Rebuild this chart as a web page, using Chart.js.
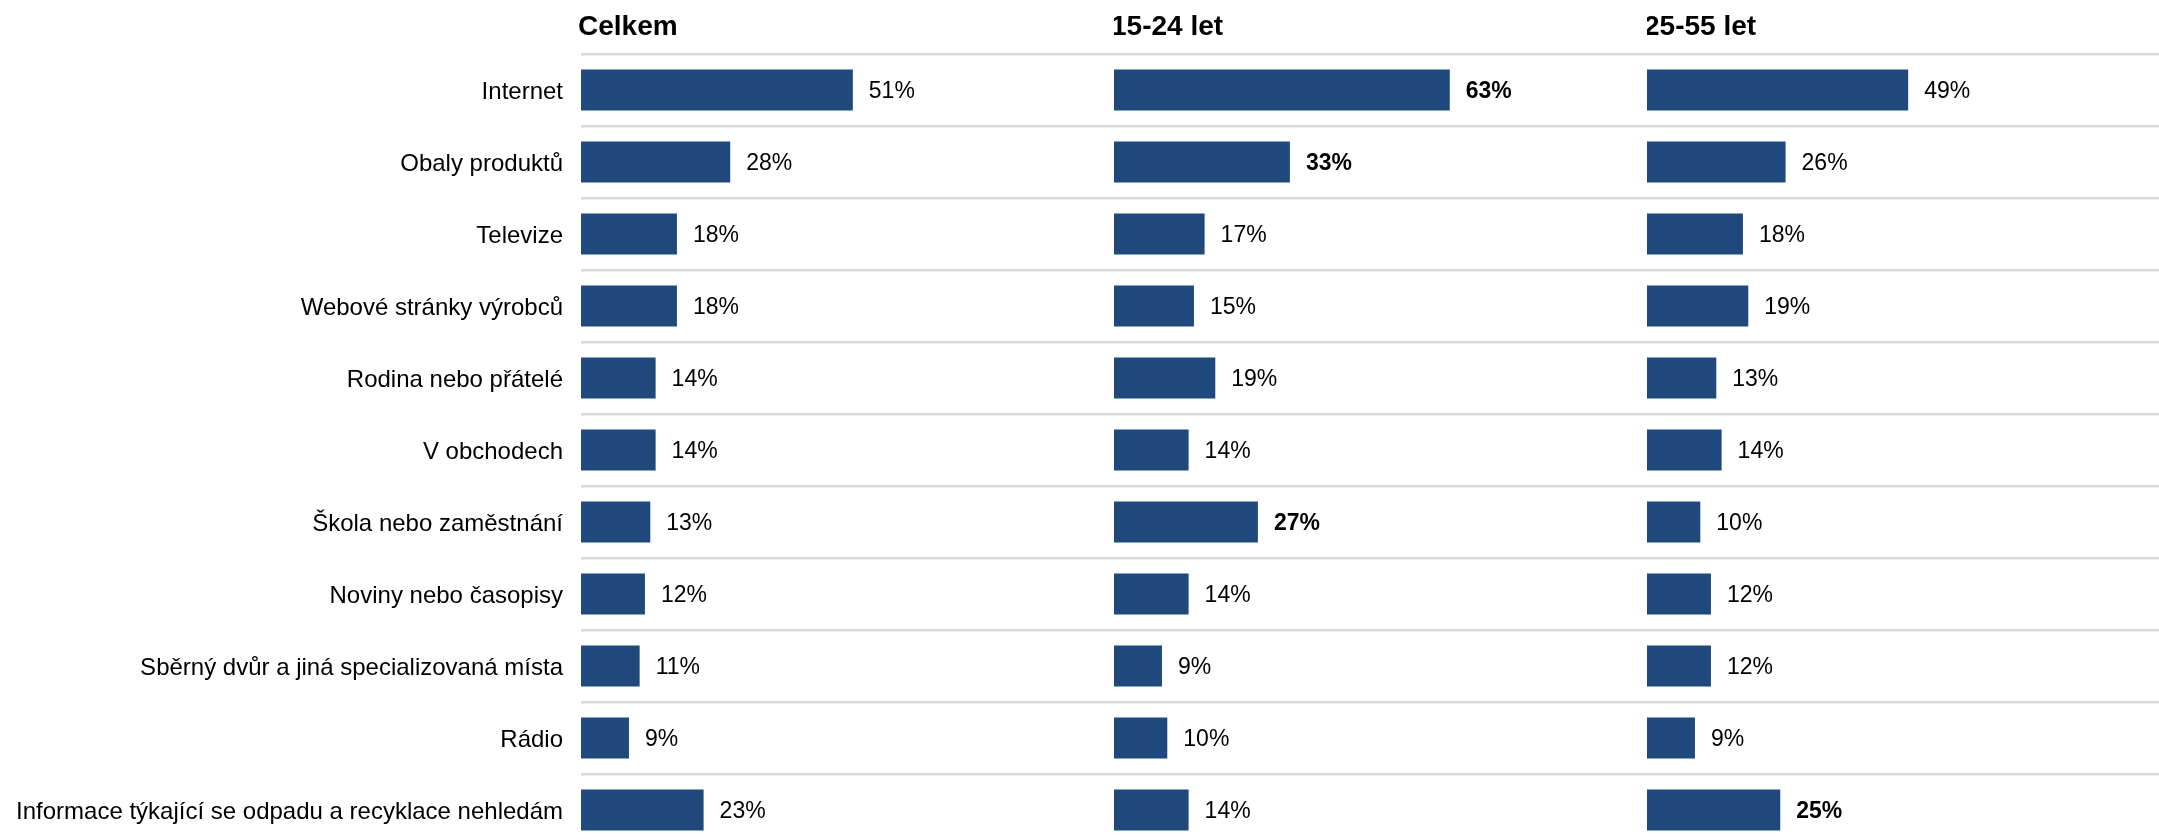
<!DOCTYPE html>
<html>
<head>
<meta charset="utf-8">
<script src="https://cdn.jsdelivr.net/npm/chart.js@4.4.1/dist/chart.umd.min.js"></script>
<style>
    html, body { margin: 0; padding: 0; background: #fff; overflow: hidden; }
    .panel { position: absolute; top: 0; height: 860px; }
    #panelTotal { left: 0; width: 1114px; }
    #panelYoung { left: 1114px; width: 533px; }
    #panelAdult { left: 1647px; width: 533px; }
</style>
</head>
<body>
<div class="panel" id="panelTotal"><canvas id="chartTotal"></canvas></div>
<div class="panel" id="panelYoung"><canvas id="chartYoung"></canvas></div>
<div class="panel" id="panelAdult"><canvas id="chartAdult"></canvas></div>
<script>
'use strict';

// data
var categories = [
    'Internet',
    'Obaly produktů',
    'Televize',
    'Webové stránky výrobců',
    'Rodina nebo přátelé',
    'V obchodech',
    'Škola nebo zaměstnání',
    'Noviny nebo časopisy',
    'Sběrný dvůr a jiná specializovaná místa',
    'Rádio',
    'Informace týkající se odpadu a recyklace nehledám'
];
var panelTitles = ['Celkem', '15-24 let', '25-55 let'];
var totalValues = [51, 28, 18, 18, 14, 14, 13, 12, 11, 9, 23];
var youngValues = [63, 33, 17, 15, 19, 14, 27, 14, 9, 10, 14];
var adultValues = [49, 26, 18, 19, 13, 14, 10, 12, 12, 9, 25];
// categories marked in bold in the source (notably higher than the total)
var youngHighlights = ['Internet', 'Obaly produktů', 'Škola nebo zaměstnání'];
var adultHighlights = ['Informace týkající se odpadu a recyklace nehledám'];

var FONT = '"Liberation Sans", Arial, Helvetica, sans-serif';
var BAR_COLOR = '#1f497d';
var GRID_COLOR = '#d9d9d9';

// panel title drawn at the left edge of the plot area
var panelTitlePlugin = {
    id: 'panelTitle',
    afterDraw: function (chart, args, opts) {
        var ctx = chart.ctx;
        ctx.save();
        ctx.font = 'bold 28px ' + FONT;
        ctx.fillStyle = '#000';
        ctx.textAlign = 'left';
        ctx.textBaseline = 'alphabetic';
        ctx.fillText(opts.text, chart.chartArea.left - 3, 35);
        ctx.restore();
    }
};

// percentage label right of each bar
var valueLabelPlugin = {
    id: 'valueLabels',
    afterDatasetsDraw: function (chart, args, opts) {
        var ctx = chart.ctx;
        var meta = chart.getDatasetMeta(0);
        var values = chart.data.datasets[0].data;
        ctx.save();
        ctx.fillStyle = '#000';
        ctx.textAlign = 'left';
        ctx.textBaseline = 'middle';
        meta.data.forEach(function (bar, i) {
            var bold = opts.highlights.indexOf(chart.data.labels[i]) !== -1;
            ctx.font = (bold ? 'bold ' : '') + '23px ' + FONT;
            ctx.fillText(values[i] + '%', bar.x + 16, bar.y + 2);
        });
        ctx.restore();
    }
};

function makePanel(canvasId, title, values, highlights, showLabels) {
    return new Chart(document.getElementById(canvasId), {
        type: 'bar',
        data: {
            labels: categories,
            datasets: [{
                data: values,
                backgroundColor: BAR_COLOR,
                borderWidth: 0,
                categoryPercentage: 1,
                barPercentage: 0.57
            }]
        },
        options: {
            indexAxis: 'y',
            responsive: true,
            maintainAspectRatio: false,
            animation: false,
            layout: { padding: { top: 54, bottom: 14, left: 0, right: 0 } },
            plugins: {
                legend: { display: false },
                title: { display: false },
                tooltip: { enabled: false },
                panelTitle: { text: title },
                valueLabels: { highlights: highlights }
            },
            scales: {
                x: {
                    display: false,
                    min: 0,
                    max: 100
                },
                y: {
                    display: true,
                    border: { display: false },
                    grid: {
                        color: GRID_COLOR,
                        lineWidth: 2.5,
                        drawTicks: false,
                        offset: true
                    },
                    ticks: {
                        display: showLabels,
                        color: '#000',
                        padding: 18,
                        labelOffset: 2,
                        font: { family: FONT, size: 24 }
                    },
                    afterFit: function (scale) {
                        scale.width = showLabels ? 581 : 0;
                        scale.paddingTop = 0;
                        scale.paddingBottom = 0;
                    }
                }
            }
        },
        plugins: [panelTitlePlugin, valueLabelPlugin]
    });
}

makePanel('chartTotal', panelTitles[0], totalValues, [], true);
makePanel('chartYoung', panelTitles[1], youngValues, youngHighlights, false);
makePanel('chartAdult', panelTitles[2], adultValues, adultHighlights, false);
</script>
</body>
</html>
